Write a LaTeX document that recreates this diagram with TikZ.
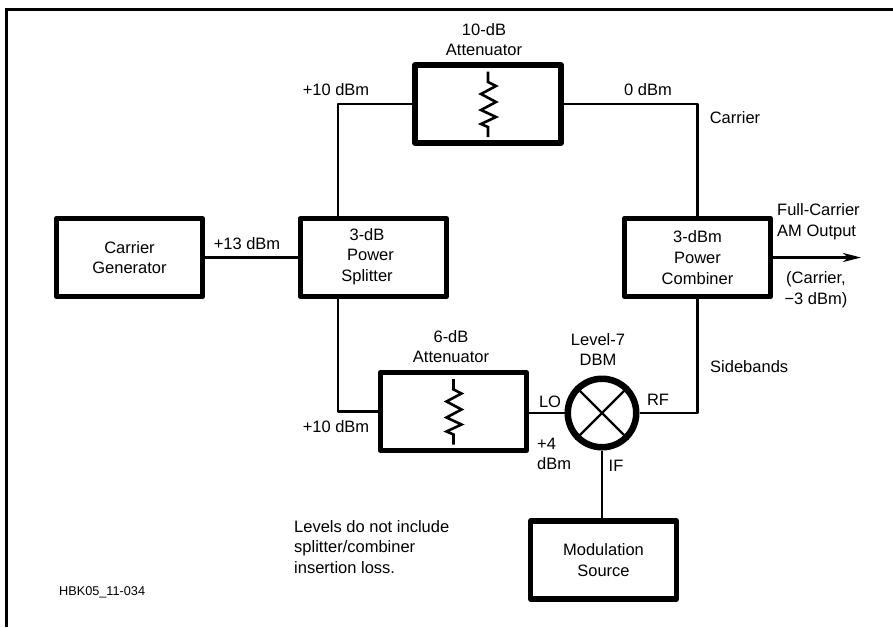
\documentclass[tikz,border=0pt]{standalone}
\usepackage{fontspec}
\setmainfont{Liberation Sans}
\usetikzlibrary{arrows.meta,positioning}
\tikzset{
  lbl/.style={font=\fontsize{16.5}{20.7}\selectfont,align=center,inner sep=0pt},
  lblleft/.style={lbl,align=left,anchor=west},
  blockbox/.style={draw,line width=5.2pt,line join=round,minimum width=146pt,minimum height=78pt,inner sep=0pt,
    font=\fontsize{16.5}{20.7}\selectfont,align=center},
  wire/.style={line width=2.2pt,line join=round},
  resistor/.pic={
    \draw[line width=2.6pt] (0,-32.5) -- (0,-22) -- (8,-18) -- (-7,-10) -- (8,-2) -- (-7,6) -- (8,13) -- (-7,20) -- (0,23) -- (0,33);
  }
}
\begin{document}
\begin{tikzpicture}[x=1pt,y=-1pt]
  \useasboundingbox (0,0) rectangle (893,627);
  % page frame, left and top only
  \draw[line width=3pt] (6.5,627) -- (6.5,9) -- (893,9);

  \node[blockbox] (generator) at (129.5,257.5) {Carrier\\Generator};
  \node[blockbox] (splitter) at (373.5,257.5) {};
  \node[lbl] (splittertext) at (367,256.5) {3-dB\\\hspace*{7pt}Power\\Splitter};
  \node[blockbox] (atten10) at (488,104) {};
  \node[blockbox] (combiner) at (697.5,257.5) {3-dBm\\Power\\Combiner};
  \node[blockbox] (atten6) at (453.5,411.5) {};
  \node[blockbox] (modsource) at (603.5,560) {Modulation\\Source};
  \node[draw,circle,line width=6.5pt,minimum size=68.5pt,inner sep=0pt] (mixer) at (602,413) {};

  \pic at (atten10.center) {resistor};
  \pic at (atten6.center) {resistor};

  \coordinate (splittop) at (338,216);
  \coordinate (splitbot) at (338,299);
  \coordinate (outend) at (861,257.5);

  \draw[wire] (generator) -- (splitter.west |- generator);
  \draw[wire] (splittop) |- (atten10.west);
  \draw[wire] (atten10.east) -| (combiner.north);
  \draw[wire] (splitbot) |- (atten6.west);
  \draw[wire] (atten6.east |- mixer.west) -- (mixer.west);
  \draw[wire] (mixer.east) -| (combiner.south);
  \draw[wire] (mixer.south) -- (mixer.south |- modsource.north);
  \draw[wire,-{Stealth[length=18pt,width=9pt,inset=5pt]}] (combiner.east) -- (outend);
  \draw[wire] (mixer.north west) -- (mixer.south east);
  \draw[wire] (mixer.north east) -- (mixer.south west);

  \node[lbl] (titletop) at (484,39.5) {10-dB\\Attenuator};
  \node[lbl] (leveltop) at (336,90) {+10 dBm};
  \node[lbl] (levelright) at (648,90) {0 dBm};
  \node[lbl] (carrier) at (735,118) {Carrier};
  \node[lbl] (levelin) at (247,244) {+13 dBm};
  \node[lblleft] (fullcarrier) at (777,221.5) {Full-Carrier\\AM Output};
  \node[lbl] (carrierlevel) at (816,290) {(Carrier,\\−3 dBm)};
  \node[lblleft] (sidebands) at (710,367) {Sidebands};
  \node[lbl] (titlebot) at (451,346.5) {6-dB\\Attenuator};
  \node[lbl] (dbm) at (598,349.5) {Level-7\\DBM};
  \node[lbl] (lo) at (550,402) {LO};
  \node[lbl] (rf) at (658,400) {RF};
  \node[lbl] (ifport) at (616,466) {IF};
  \node[lblleft] (levello) at (537,454) {+4\\dBm};
  \node[lbl] (levelbot) at (336,427) {+10 dBm};
  \node[lblleft] (levelsnote) at (294,547) {Levels do not include\\splitter/combiner\\insertion loss.};
  \node[lblleft,font=\fontsize{12.7}{15}\selectfont] (figid) at (59,592) {HBK05\_11-034};
\end{tikzpicture}
\end{document}
